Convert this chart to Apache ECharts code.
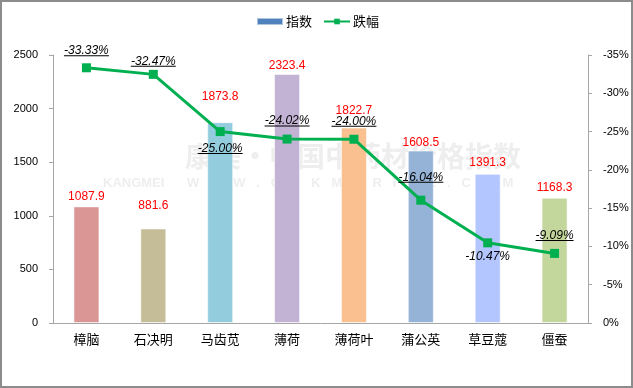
<!DOCTYPE html>
<html>
<head>
<meta charset="utf-8">
<script src="https://cdn.jsdelivr.net/npm/echarts@6/dist/echarts.min.js"></script>
<style>
html,body{margin:0;padding:0;background:#fff;}
#chart{width:633px;height:388px;}
</style>
</head>
<body>
<div id="chart"></div>
<script>
const categories = ['樟脑', '石决明', '马齿苋', '薄荷', '薄荷叶', '蒲公英', '草豆蔻', '僵蚕'];
const indexValues = [1087.9, 881.6, 1873.8, 2323.4, 1822.7, 1608.5, 1391.3, 1168.3];
const changeValues = [-33.33, -32.47, -25.00, -24.02, -24.00, -16.04, -10.47, -9.09];
const leftAxisTicks = [0, 500, 1000, 1500, 2000, 2500];
const rightAxisTicks = [-35, -30, -25, -20, -15, -10, -5, 0];

const FONT = '"Liberation Sans", Arial, "Noto Sans CJK SC", sans-serif';
const CJK = '"Noto Sans CJK SC", "Liberation Sans", sans-serif';
const barColors = ['#d99694', '#c4bd97', '#93cddd', '#c2b2d4', '#fac090', '#95b3d7', '#b4c6ff', '#c3d69b'];
// label layout (presentation only)
const barLabelGap = [4, 17, 19, 2, 11, 2, 5, 4];
const lineLabelGap = [7, 3, 8, 8, 8, 13, 5, 8];
const lineLabelBelow = [2, 6];
const noUnderline = [6];

const fmtPct = v => v.toFixed(2) + '%';
const ctx = document.createElement('canvas').getContext('2d');
ctx.font = 'italic 12px "Liberation Sans"';
const rich = { t: { fontStyle: 'italic', fontSize: 12, color: '#000', fontFamily: FONT, lineHeight: 9 } };
changeValues.forEach((v, i) => {
  rich['u' + i] = { width: Math.round(ctx.measureText(fmtPct(v)).width), height: 1, lineHeight: 1, backgroundColor: '#000' };
});

const barData = indexValues.map((v, i) => ({
  value: v,
  itemStyle: { color: barColors[i] },
  label: { distance: barLabelGap[i] }
}));
const lineData = changeValues.map((v, i) => ({
  value: v,
  label: { position: lineLabelBelow.includes(i) ? 'bottom' : 'top', distance: lineLabelGap[i] }
}));

const wm2 = 'W W W . C N K M P R I C E . C O M'.split(' ').join('   ');

const chart = echarts.init(document.getElementById('chart'), null, { renderer: 'canvas' });
chart.setOption({
  animation: false,
  backgroundColor: '#fff',
  textStyle: { fontFamily: FONT },
  graphic: [
    { type: 'text', z: -10, left: 185, top: 142, style: { text: '康美·中国中药材价格指数', font: 'bold 28px "Noto Sans CJK SC"', fill: '#eeeeee' } },
    { type: 'text', z: -10, left: 103, top: 177, style: { text: 'KANGMEI', font: 'bold 13px "Liberation Sans"', fill: '#eeeeee' } },
    { type: 'text', z: -10, left: 187, top: 177, style: { text: wm2, font: 'bold 13px "Liberation Sans"', fill: '#eeeeee' } },
    { type: 'rect', z: 100, shape: { x: 1, y: 1, width: 631, height: 386 }, style: { fill: 'none', stroke: '#8c8c8c', lineWidth: 2 } }
  ],
  legend: {
    top: 15,
    left: 256,
    padding: 0,
    itemWidth: 26,
    itemHeight: 7,
    itemGap: 11,
    textStyle: { fontSize: 13, color: '#000', fontFamily: CJK, padding: [0, 0, 0, -2] },
    data: [
      { name: '指数', icon: 'rect', itemStyle: { color: '#4f81bd' } },
      { name: '跌幅' }
    ]
  },
  grid: { left: 53, right: 45, top: 55, bottom: 65 },
  xAxis: {
    type: 'category',
    data: categories,
    axisLine: { lineStyle: { color: '#a6a6a6' } },
    axisTick: { length: 4, lineStyle: { color: '#a6a6a6' } },
    axisLabel: { color: '#000', fontSize: 13, margin: 10, fontFamily: CJK }
  },
  yAxis: [
    {
      type: 'value',
      min: leftAxisTicks[0],
      max: leftAxisTicks[leftAxisTicks.length - 1],
      interval: leftAxisTicks[1] - leftAxisTicks[0],
      axisLine: { show: true, lineStyle: { color: '#a6a6a6' } },
      axisTick: { show: true, length: 4, lineStyle: { color: '#a6a6a6' } },
      splitLine: { show: false },
      axisLabel: { color: '#000', fontSize: 11, margin: 15, formatter: v => String(v) }
    },
    {
      type: 'value',
      position: 'right',
      inverse: true,
      min: rightAxisTicks[0],
      max: rightAxisTicks[rightAxisTicks.length - 1],
      interval: rightAxisTicks[1] - rightAxisTicks[0],
      axisLine: { show: true, lineStyle: { color: '#a6a6a6' } },
      axisTick: { show: true, length: 4, lineStyle: { color: '#a6a6a6' } },
      splitLine: { show: false },
      axisLabel: { color: '#000', fontSize: 11, margin: 15, formatter: v => v + '%' }
    }
  ],
  series: [
    {
      name: '指数',
      type: 'bar',
      yAxisIndex: 0,
      barWidth: 26,
      data: barData,
      z: 2,
      itemStyle: { color: '#4f81bd', borderColor: 'rgba(255,255,255,0.55)', borderWidth: 1 },
      labelLayout: { hideOverlap: false, moveOverlap: null },
      label: { show: true, position: 'top', color: '#ff0000', fontSize: 12, fontFamily: FONT, formatter: p => p.value.toFixed(1) }
    },
    {
      name: '跌幅',
      type: 'line',
      yAxisIndex: 1,
      data: lineData,
      z: 3,
      symbol: 'rect',
      symbolSize: 9,
      lineStyle: { color: '#00b050', width: 3 },
      itemStyle: { color: '#00b050' },
      labelLayout: { hideOverlap: false, moveOverlap: null },
      label: {
        show: true,
        formatter: p => '{t|' + fmtPct(p.value) + '}' + (noUnderline.includes(p.dataIndex) ? '' : '\n{u' + p.dataIndex + '|}'),
        rich: rich
      }
    }
  ]
});
</script>
</body>
</html>
